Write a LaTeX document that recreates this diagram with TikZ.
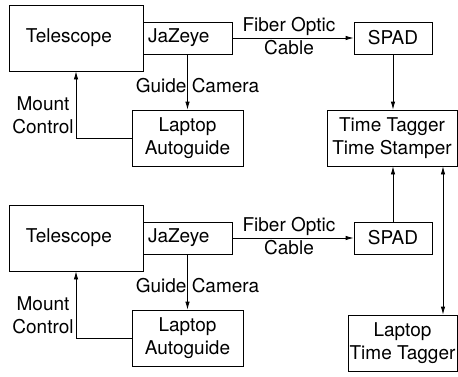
\documentclass[tikz,border=0pt]{standalone}
\usepackage{fontspec}
\setmainfont{TeX Gyre Heros}
\usepackage{tikz}
\usetikzlibrary{arrows.meta, positioning, calc}

\tikzset{
  blk/.style={draw, line width=0.8pt, align=center, inner sep=0pt},
  conn/.style={line width=0.8pt, -{Latex[length=8pt, width=4.5pt]}},
  dblconn/.style={line width=0.8pt, {Latex[length=8pt, width=4.5pt]}-{Latex[length=8pt, width=4.5pt]}},
  lbl/.style={align=center, inner sep=2pt}
}

\begin{document}
\begin{tikzpicture}[x=1pt, y=-1pt, font=\fontsize{19}{23}\selectfont]
  \useasboundingbox (0,0) rectangle (458,376);

  % upper telescope
  \node[blk, minimum width=134pt, minimum height=66pt, text width=134pt, align=left] (tel1) at (76,38) {\hspace*{17pt}Telescope};
  \node[blk, minimum width=89pt, minimum height=32pt, text width=89pt, align=left] (jaz1) at (187.5,38) {\hspace*{5pt}JaZeye};
  \node[blk, minimum width=78pt, minimum height=32pt] (spad1) at (393,38) {SPAD};
  \node[blk, minimum width=111pt, minimum height=56pt] (lap1) at (187.5,138) {Laptop\\Autoguide};

  % lower telescope
  \node[blk, minimum width=134pt, minimum height=66pt, text width=134pt, align=left] (tel2) at (76,238) {\hspace*{17pt}Telescope};
  \node[blk, minimum width=89pt, minimum height=32pt, text width=89pt, align=left] (jaz2) at (187.5,238) {\hspace*{5pt}JaZeye};
  \node[blk, minimum width=78pt, minimum height=32pt] (spad2) at (393,238) {SPAD};
  \node[blk, minimum width=111pt, minimum height=56pt] (lap2) at (187.5,338) {Laptop\\Autoguide};

  % tagger
  \node[blk, minimum width=130pt, minimum height=56pt] (tt) at (392,138) {Time Tagger\\Time Stamper};
  \node[blk, minimum width=109pt, minimum height=56pt] (ltt) at (402.5,343) {Laptop\\Time Tagger};

  % connectors
  \draw[conn] (jaz1) -- (spad1)
    node[lbl, midway, above, xshift=-4pt] {Fiber Optic}
    node[lbl, midway, below, xshift=-4pt] {Cable};
  \draw[conn] (jaz1) -- (lap1) node[midway, xshift=10pt, yshift=-4pt] {Guide Camera};
  \draw[conn] (lap1.west) -| (tel1.south) node[lbl, pos=0.67, left] {Mount\\Control};

  \draw[conn] (jaz2) -- (spad2)
    node[lbl, midway, above, xshift=-4pt] {Fiber Optic}
    node[lbl, midway, below, xshift=-4pt] {Cable};
  \draw[conn] (jaz2) -- (lap2) node[midway, xshift=10pt, yshift=-4pt] {Guide Camera};
  \draw[conn] (lap2.west) -| (tel2.south) node[lbl, pos=0.67, left] {Mount\\Control};

  \draw[conn] (spad1.south) -- (spad1.south |- tt.north);
  \draw[conn] (spad2.north) -- (spad2.north |- tt.south);
  \draw[dblconn] ([xshift=51pt]tt.south) -- ([xshift=51pt]tt.south |- ltt.north);
\end{tikzpicture}
\end{document}
